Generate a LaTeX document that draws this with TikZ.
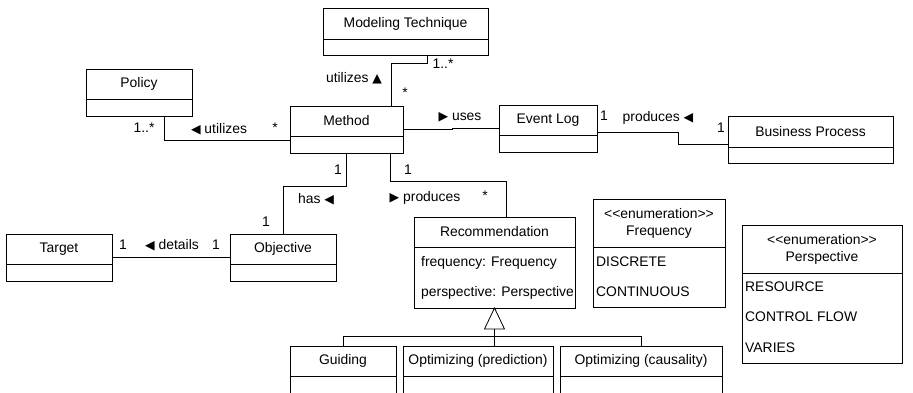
\documentclass[tikz,border=0pt]{standalone}
\usepackage{fontspec}
\newfontfamily\umlfont{Liberation Sans}
\newfontfamily\symfont{DejaVu Sans}
\newcommand{\tril}{{\symfont\fontsize{12.5}{12.5}\selectfont ◀}}
\newcommand{\trir}{{\symfont\fontsize{12.5}{12.5}\selectfont ▶}}
\newcommand{\triu}{{\symfont\fontsize{12.5}{12.5}\selectfont ▲}}
% #1 name, #2 left, #3 top, #4 right, #5 divider, #6 bottom, #7 title
\newcommand{\umlclass}[7]{%
  \node[clsbox, minimum width={#4-#2}, minimum height={#6-#3}] (#1) at ({(#2+#4)/2},{(#3+#6)/2}) {};
  \draw[assoc] (#2,#5) -- (#4,#5);
  \node[clstitle] (#1-title) at ({(#2+#4)/2},{(#3+#5)/2}) {#7};
}

\begin{document}
\begin{tikzpicture}[x=1pt,y=-1pt,
  font=\umlfont\fontsize{13.9}{17}\selectfont,
  clsbox/.style={draw, line width=0.8pt, inner sep=0pt, outer sep=0pt},
  clstitle/.style={inner sep=0pt, align=center},
  attr/.style={anchor=west, inner sep=0pt},
  lbl/.style={inner sep=0pt},
  assoc/.style={line width=0.8pt}]
\useasboundingbox (0,0) rectangle (913,392);
\clip (0,0) rectangle (913,392);

\umlclass{modtech}{323}{8}{488}{39}{55}{Modeling Technique}
\umlclass{policy}{86}{69}{192}{99}{116}{Policy}
\umlclass{method}{290}{106}{403}{136}{153}{Method}
\umlclass{eventlog}{499}{105}{597}{135}{152}{Event Log}
\umlclass{bproc}{728}{116}{893}{147}{163}{Business Process}
\umlclass{target}{6}{234}{112}{264}{281}{Target}
\umlclass{objective}{230}{234}{336}{264}{281}{Objective}
\umlclass{recom}{414}{217}{575}{247}{308}{Recommendation}
\umlclass{freqenum}{593}{199}{725}{247}{307}{<<enumeration>>\\Frequency}
\umlclass{perspenum}{742}{225}{902}{273}{363}{<<enumeration>>\\Perspective}
\umlclass{guiding}{290}{346}{396}{376}{406}{Guiding}
\umlclass{optpred}{403}{346}{553}{376}{406}{Optimizing (prediction)}
\umlclass{optcaus}{560}{346}{722}{376}{406}{Optimizing (causality)}

% attributes and literals
\node[attr] (recom-freq) at (421,263) {frequency: Frequency};
\node[attr] (recom-persp) at (421,293) {perspective: Perspective};
\node[attr] (freq-d) at (596,262) {DISCRETE};
\node[attr] (freq-c) at (596,292) {CONTINUOUS};
\node[attr] (persp-r) at (745,287) {RESOURCE};
\node[attr] (persp-c) at (745,317) {CONTROL FLOW};
\node[attr] (persp-v) at (745,348) {VARIES};

% associations
\draw[assoc] ([xshift=44.5]method.north) -- ++(0,-43) -| ([xshift=21.5]modtech.south);
\draw[assoc] ([yshift=-10.5]method.west) -| ([xshift=25]policy.south);
\draw[assoc] (method.east) -- ++(49,0) |- (eventlog.west);
\draw[assoc] ([yshift=-3.5]eventlog.east) -- ++(81,0) |- ([yshift=-4.5]bproc.west);
\draw[assoc] (method.south) -- ++(0,33) -| (objective.north);
\draw[assoc] ([xshift=43.5]method.south) -- ++(0,28) -| ([xshift=11.5]recom.north);
\draw[assoc] (target.east) -- (objective.west);

% generalization
\draw[assoc] (recom.south) -- ++(-10,21) -- ++(20,0) -- cycle;
\draw[assoc] ([yshift=-21]recom.south) -- (optpred.north -| recom.south);
\draw[assoc] (guiding.north) -- ++(0,-10) -| (optcaus.north);

% labels
\node[lbl] (l-mt-many) at (443,64) {1..*};
\node[lbl] (l-mt-star) at (405,93) {*};
\node[lbl] (l-mt-name) at (354,78) {utilizes \triu};
\node[lbl] (l-po-many) at (144,128) {1..*};
\node[lbl] (l-po-name) at (219,129) {\tril\ utilizes};
\node[lbl] (l-po-star) at (275,128) {*};
\node[lbl] (l-el-name) at (460,117) {\trir\ uses};
\node[lbl] (l-el-one) at (604,116) {1};
\node[lbl] (l-bp-name) at (658,118) {produces \tril};
\node[lbl] (l-bp-one) at (721,128) {1};
\node[lbl] (l-ob-one) at (338,170) {1};
\node[lbl] (l-re-one) at (408,170) {1};
\node[lbl] (l-ob-name) at (316,199) {has \tril};
\node[lbl] (l-re-name) at (425,198) {\trir\ produces};
\node[lbl] (l-re-star) at (485,196) {*};
\node[lbl] (l-ob-low) at (266,222) {1};
\node[lbl] (l-ta-one) at (123,245) {1};
\node[lbl] (l-ta-name) at (172,245) {\tril\ details};
\node[lbl] (l-ta-two) at (216,245) {1};
\end{tikzpicture}
\end{document}
